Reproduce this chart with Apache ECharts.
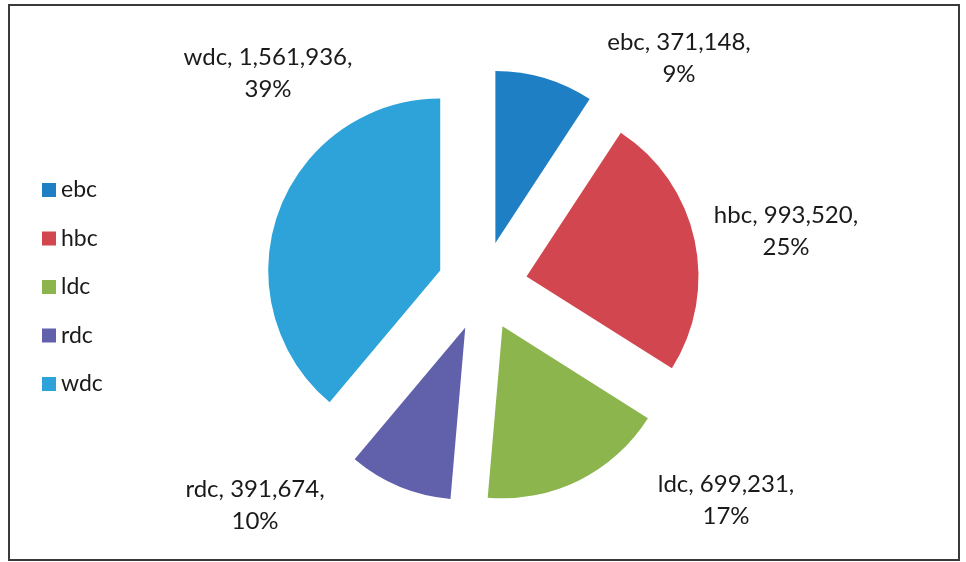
<!DOCTYPE html>
<html>
<head>
<meta charset="utf-8">
<script src="https://cdn.jsdelivr.net/npm/echarts@6/dist/echarts.min.js"></script>
<style>
html,body{margin:0;padding:0;background:#fff;}
#chart{width:966px;height:562px;}
</style>
</head>
<body>
<div id="chart"></div>
<script>
// Data
const categories = ['ebc', 'hbc', 'ldc', 'rdc', 'wdc'];
const values = [371148, 993520, 699231, 391674, 1561936];

// Styling / layout (not data)
const colors = ['#1f7fc4', '#d2464f', '#8cb54e', '#6160ab', '#2ea3d9'];
const labelCenters = [[679, 58], [786, 231], [726, 500], [255, 505], [268, 73]];

const chart = echarts.init(document.getElementById('chart'), null, {renderer: 'canvas'});
const fontFamily = 'Lato, "Noto Sans", sans-serif';

const total = values.reduce((a, b) => a + b, 0);
const labelTexts = categories.map((c, i) =>
  c + ', ' + echarts.format.addCommas(values[i]) + ',\n' + Math.round(values[i] / total * 100) + '%');

const graphics = [{
  type: 'rect',
  shape: {x: 9, y: 5, width: 950, height: 555},
  style: {fill: 'none', stroke: '#3a3a3a', lineWidth: 2},
  silent: true
}].concat(labelTexts.map((t, i) => ({
  type: 'text',
  x: labelCenters[i][0],
  y: labelCenters[i][1],
  silent: true,
  style: {
    text: t,
    fontFamily: fontFamily,
    fontSize: 24,
    lineHeight: 32,
    fill: '#1a1a1a',
    align: 'center',
    verticalAlign: 'middle'
  }
})));

chart.setOption({
  animation: false,
  color: colors,
  graphic: graphics,
  legend: {
    orient: 'vertical',
    left: 37,
    top: 173,
    itemWidth: 14,
    itemHeight: 14,
    itemGap: 24.5,
    icon: 'rect',
    data: categories,
    textStyle: {fontFamily: fontFamily, fontSize: 23, color: '#1a1a1a', lineHeight: 24},
    selectedMode: false
  },
  series: [{
    type: 'pie',
    center: [482.5, 286],
    radius: 172,
    startAngle: 90,
    clockwise: true,
    selectedMode: 'multiple',
    selectedOffset: 45,
    avoidLabelOverlap: false,
    data: categories.map((c, i) => ({name: c, value: values[i], selected: true})),
    itemStyle: {borderWidth: 0},
    label: {show: false},
    labelLine: {show: false},
    emphasis: {disabled: true}
  }]
});
</script>
</body>
</html>
